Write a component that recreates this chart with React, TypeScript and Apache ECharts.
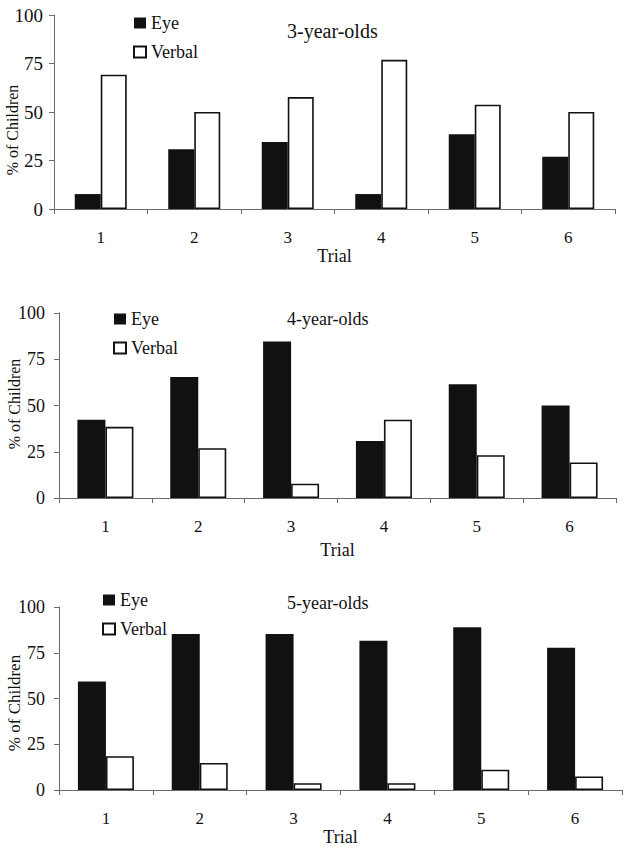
import React, { useEffect, useRef } from "react";
import * as echarts from "echarts";

const trials = ["1", "2", "3", "4", "5", "6"];
const yTicks = [0, 25, 50, 75, 100];
const panelTitles = ["3-year-olds", "4-year-olds", "5-year-olds"];
const seriesNames = ["Eye", "Verbal"];
const eye3 = [7.7, 30.8, 34.6, 7.7, 38.5, 26.9];
const verbal3 = [69.2, 50, 57.7, 76.9, 53.8, 50];
const eye4 = [42.3, 65.4, 84.6, 30.8, 61.5, 50];
const verbal4 = [38.5, 26.9, 7.7, 42.3, 23.1, 19.2];
const eye5 = [59.3, 85.2, 85.2, 81.5, 88.9, 77.8];
const verbal5 = [18.5, 14.8, 3.7, 3.7, 11.1, 7.4];
const yAxisName = "% of Children";
const xAxisName = "Trial";

const FONT = "Liberation Serif";
const INK = "#111";
const AXIS = "#6a6a6a";

export default function App() {
  const ref = useRef<HTMLDivElement>(null);
  useEffect(() => {
    if (!ref.current) return;
    const chart = echarts.init(ref.current, undefined, { renderer: "svg" });
    const eyeData = [eye3, eye4, eye5];
    const verbalData = [verbal3, verbal4, verbal5];
    const grids = [
      { left: 54, right: 15, top: 15, height: 194 },
      { left: 59, right: 14, top: 313, height: 185 },
      { left: 59, right: 8, top: 607, height: 183 },
    ];
    const barW = [26, 28, 28];
    const yLabelMargin = [11, 14, 14];
    const yLabelSize = [19, 18, 18];
    const nameGaps = [34, 43, 35];
    const legendPos = [
      { left: 133, top: 14 },
      { left: 113, top: 310 },
      { left: 102, top: 591 },
    ];
    const titleTop = [21, 310, 594];
    const titleSize = [20, 18, 18];
    const yNameCenter = [130, 404, 703];
    const yNameX = [12.5, 14, 14];
    const yNameSize = [16, 16, 17];

    const option: any = {
      animation: false,
      backgroundColor: "#fff",
      textStyle: { fontFamily: FONT },
      grid: grids.map((g) => ({ ...g, containLabel: false })),
      title: panelTitles.map((t, i) => ({
        text: t,
        left: 287,
        top: titleTop[i],
        padding: 0,
        textStyle: { fontFamily: FONT, fontSize: titleSize[i], fontWeight: "normal", color: INK },
      })),
      legend: legendPos.map((p) => ({
        data: seriesNames,
        orient: "vertical",
        left: p.left,
        top: p.top,
        padding: 0,
        itemWidth: 12,
        itemHeight: 11,
        itemGap: 11,
        icon: "rect",
        selectedMode: false,
        textStyle: { fontFamily: FONT, fontSize: 18, color: INK },
      })),
      xAxis: grids.map((_, i) => ({
        type: "category",
        gridIndex: i,
        data: trials,
        name: xAxisName,
        nameLocation: "middle",
        nameGap: nameGaps[i],
        nameTextStyle: { fontFamily: FONT, fontSize: 18, color: INK },
        axisLine: { lineStyle: { color: AXIS, width: 1 } },
        axisTick: { show: true, length: 5, lineStyle: { color: AXIS } },
        axisLabel: { fontFamily: FONT, fontSize: 17, color: INK, margin: 20 },
        splitLine: { show: false },
      })),
      yAxis: grids.map((_, i) => ({
        type: "value",
        gridIndex: i,
        min: yTicks[0],
        max: yTicks[yTicks.length - 1],
        interval: 25,
        axisLine: { show: true, lineStyle: { color: AXIS, width: 1 } },
        axisTick: { show: true, length: 5, lineStyle: { color: AXIS } },
        axisLabel: { fontFamily: FONT, fontSize: yLabelSize[i], color: INK, margin: yLabelMargin[i] },
        splitLine: { show: false },
      })),
      series: grids.flatMap((_, i) => [
        {
          name: seriesNames[0],
          type: "bar",
          xAxisIndex: i,
          yAxisIndex: i,
          data: eyeData[i],
          barWidth: barW[i],
          barGap: "0%",
          itemStyle: { color: INK },
        },
        {
          name: seriesNames[1],
          type: "bar",
          xAxisIndex: i,
          yAxisIndex: i,
          data: verbalData[i],
          barWidth: barW[i],
          barGap: "0%",
          itemStyle: { color: "#fff", borderColor: INK, borderWidth: 1.6 },
        },
      ]),
      graphic: yNameCenter.map((cy, i) => ({
        type: "text",
        x: yNameX[i],
        y: cy,
        rotation: Math.PI / 2,
        style: {
          text: yAxisName,
          fontFamily: FONT,
          fontSize: yNameSize[i],
          fill: INK,
          textAlign: "center",
          textVerticalAlign: "middle",
        },
      })),
    };
    chart.setOption(option);
    return () => chart.dispose();
  }, []);
  return (
    <div
      ref={ref}
      style={{ position: "absolute", left: 0, top: 0, width: 630, height: 853 }}
    />
  );
}
